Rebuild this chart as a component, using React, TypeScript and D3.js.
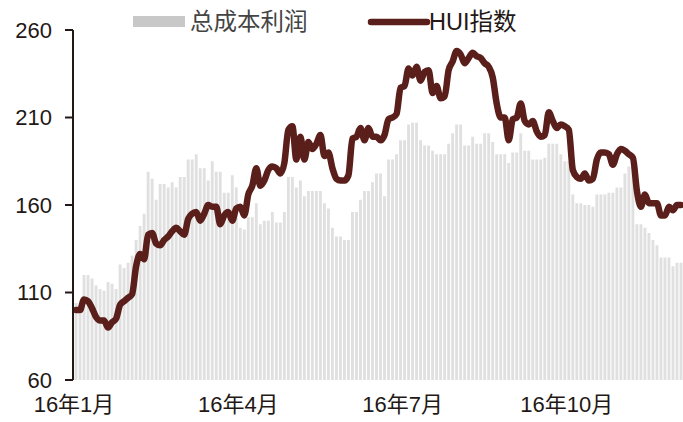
import React from "react";
import * as d3 from "d3";

const W = 683;
const H = 422;

// HUI指数 (line)
const huiIndex: number[] = [
  100, 100, 106, 105, 101, 96, 94, 94, 90, 93,
  95, 103, 105, 107, 109, 125, 132, 129, 143, 144,
  138, 137, 140, 142, 145, 147, 145, 143, 152, 155,
  156, 151, 155, 160, 159, 159, 149, 154, 156, 151,
  158, 159, 154, 166, 171, 181, 171, 174, 180, 182,
  181, 178, 184, 203, 205, 186, 199, 186, 196, 192,
  195, 200, 188, 190, 181, 175, 174, 174, 177, 198,
  199, 204, 197, 204, 199, 199, 197, 200, 209, 210,
  212, 227, 228, 238, 234, 239, 231, 236, 237, 224,
  228, 221, 222, 237, 242, 248, 246, 241, 244, 247,
  245, 244, 241, 239, 233, 218, 210, 210, 197, 209,
  210, 218, 208, 206, 208, 202, 199, 200, 213, 208,
  204, 206, 205, 203, 180, 176, 175, 178, 174, 175,
  186, 190, 190, 189, 183, 189, 192, 191, 189, 187,
  168, 159, 166, 161, 161, 161, 154, 154, 159, 157, 160, 160,
];

// 总成本利润 (bars)
const totalCostProfit: number[] = [
  104, 104, 120, 120, 118, 114, 112, 111, 116, 115,
  112, 126, 124, 127, 131, 140, 148, 155, 179, 175,
  163, 172, 172, 170, 173, 170, 176, 176, 186, 186,
  189, 181, 181, 174, 185, 179, 179, 167, 167, 177,
  170, 147, 146, 153, 153, 161, 149, 151, 151, 156,
  150, 150, 156, 176, 176, 170, 174, 165, 168, 168,
  168, 168, 161, 158, 147, 142, 142, 140, 140, 156,
  156, 163, 168, 168, 173, 178, 178, 165, 186, 186,
  189, 197, 197, 206, 207, 207, 197, 194, 194, 191,
  189, 189, 189, 195, 201, 206, 206, 194, 194, 199,
  195, 195, 201, 201, 196, 189, 189, 189, 184, 190,
  190, 201, 191, 191, 186, 186, 186, 187, 195, 195,
  195, 189, 185, 185, 166, 161, 161, 160, 160, 159,
  166, 166, 166, 167, 167, 170, 170, 178, 182, 182,
  149, 149, 147, 144, 140, 137, 130, 130, 130, 125, 127, 127,
];

const yTicks: number[] = [60, 110, 160, 210, 260];
const xLabels: string[] = ["16年1月", "16年4月", "16年7月", "16年10月"];
const xLabelIndex: number[] = [0, 41, 82, 123];
const legendNames: string[] = ["总成本利润", "HUI指数"];

const FONT = "'Liberation Sans', Arial, 'Noto Sans CJK SC', sans-serif";
const LINE_COLOR = "#5a1f1a";
const BAR_COLOR = "#e0e0e0";

export default function App() {
  const n = totalCostProfit.length;
  const left = 73;
  const right = 683;
  const top = 30;
  const bottom = 380;

  const x = d3.scaleLinear().domain([0, n]).range([left + 1, right]);
  const y = d3.scaleLinear().domain([60, 260]).range([bottom, top]);
  const pitch = x(1) - x(0);
  const bw = pitch * 0.72;

  const line = d3
    .line<number>()
    .x((_, i) => x(i + 0.5))
    .y((d) => y(d))
    .curve(d3.curveMonotoneX);

  return (
    <svg
      width={W}
      height={H}
      style={{ position: "absolute", left: 0, top: 0, background: "#fff" }}
      fontFamily={FONT}
    >
      {/* bars */}
      <g>
        {totalCostProfit.map((v, i) => (
          <rect
            key={i}
            x={x(i) + (pitch - bw) / 2}
            y={y(v)}
            width={bw}
            height={bottom - y(v)}
            fill={BAR_COLOR}
          />
        ))}
      </g>

      {/* line */}
      <path
        d={line(huiIndex) || ""}
        fill="none"
        stroke={LINE_COLOR}
        strokeWidth={6.5}
        strokeLinejoin="round"
        strokeLinecap="round"
      />

      {/* y axis */}
      <g>
        <line x1={left} x2={left} y1={y(260)} y2={y(60)} stroke="#231815" strokeWidth={2} />
        {yTicks.map((t) => (
          <g key={t}>
            <line x1={left - 8} x2={left} y1={y(t)} y2={y(t)} stroke="#231815" strokeWidth={2} />
            <text
              x={52}
              y={y(t)}
              textAnchor="end"
              dominantBaseline="central"
              fontSize={22}
              fill="#231815"
            >
              {t}
            </text>
          </g>
        ))}
      </g>

      {/* x labels */}
      <g>
        {xLabels.map((lab, k) => (
          <text
            key={lab}
            x={x(xLabelIndex[k])}
            y={412}
            textAnchor="middle"
            fontSize={22}
            fill="#231815"
          >
            {lab}
          </text>
        ))}
      </g>

      {/* legend */}
      <g>
        <rect x={133} y={16} width={52} height={11} fill="#c8c8c8" />
        <text x={190} y={22} dominantBaseline="central" fontSize={23.5} fill="#444">
          {legendNames[0]}
        </text>
        <line x1={371} x2={427} y1={22} y2={22} stroke={LINE_COLOR} strokeWidth={6.5} strokeLinecap="round" />
        <text x={429} y={22} dominantBaseline="central" fontSize={23.5} fill="#231815">
          {legendNames[1]}
        </text>
      </g>
    </svg>
  );
}
